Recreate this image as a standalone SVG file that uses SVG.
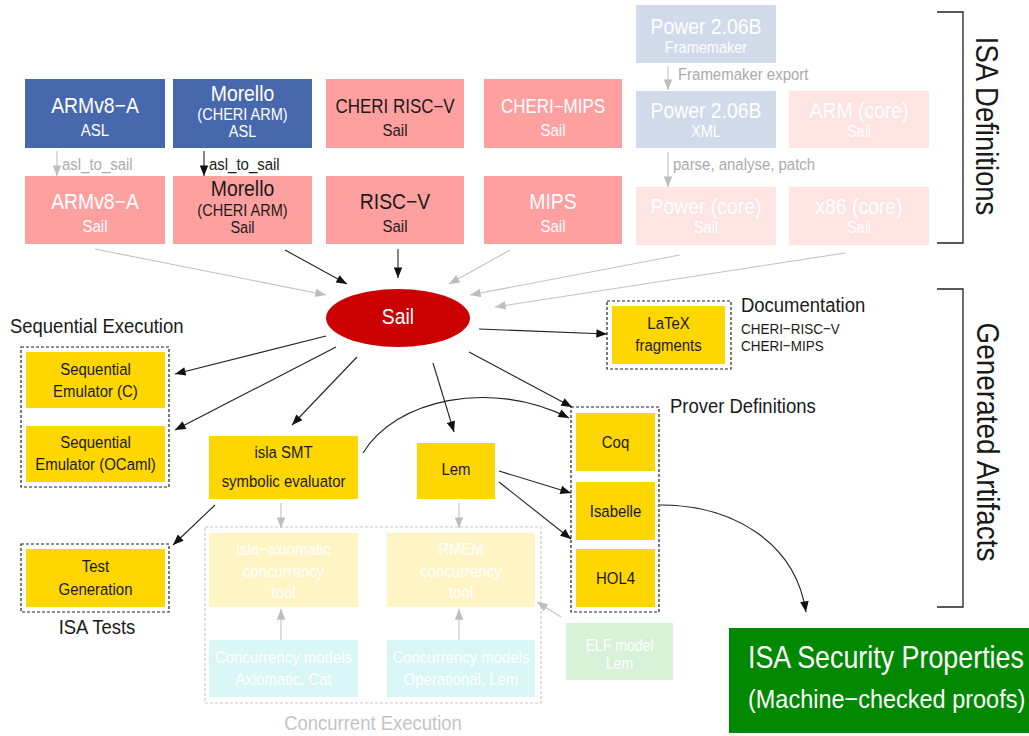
<svg xmlns="http://www.w3.org/2000/svg" width="1029" height="736" viewBox="0 0 1029 736">
<defs>
<marker id="ah" viewBox="0 0 10 8" refX="10" refY="4" markerWidth="12" markerHeight="8.5" markerUnits="userSpaceOnUse" orient="auto"><path d="M0,0 L10,4 L0,8 z" fill="#111"/></marker>
<marker id="ag" viewBox="0 0 10 8" refX="10" refY="4" markerWidth="12" markerHeight="8.5" markerUnits="userSpaceOnUse" orient="auto"><path d="M0,0 L10,4 L0,8 z" fill="#BDBDBD"/></marker>
</defs>
<style>
text { font-family: "Liberation Sans", Arial, Helvetica, sans-serif; }
.q { transform-box: fill-box; transform-origin: center; transform: scaleX(0.88); text-anchor: middle; }
.l { transform-box: fill-box; transform-origin: left; transform: scaleX(0.88); text-anchor: start; }
.big { font-size: 22px; }
.mid { font-size: 19.3px; }
.sm { font-size: 17px; }
.xs { font-size: 16.5px; }
.lab { font-size: 21px; }
.w { fill: #ffffff; }
.d { fill: #1a1a1a; }
.g { fill: #ABABAB; }
.blue { fill: #4868AE; }
.pink { fill: #FFA0A0; }
.fpink { fill: #FFE4E4; }
.pblue { fill: #D1DAEA; }
.yel { fill: #FFD700; }
.pyel { fill: #FFF5C4; }
.pcyan { fill: #D8F6F6; }
.pgreen { fill: #D8F2D8; }
.dash { fill: none; stroke: #222; stroke-width: 1.2; stroke-dasharray: 3 2; }
.gdash { fill: none; stroke: #C8C8C8; stroke-width: 1.2; stroke-dasharray: 3 2; }
.ab { fill: none; stroke: #222; stroke-width: 1.1; marker-end: url(#ah); }
.agr { fill: none; stroke: #C2C2C2; stroke-width: 1.1; marker-end: url(#ag); }
.br { fill: none; stroke: #222; stroke-width: 1.3; }
</style>

<!-- ISA definition nodes -->
<g id="armv8-asl"><rect class="blue" x="25" y="79" width="140" height="69"/><text class="q big w" x="95" y="113">ARMv8−A</text><text class="q sm w" x="95" y="136">ASL</text></g>
<g id="morello-asl"><rect class="blue" x="173" y="79" width="139" height="69"/><text class="q big w" x="242.5" y="101">Morello</text><text class="q xs w" x="242.5" y="120">(CHERI ARM)</text><text class="q xs w" x="242.5" y="137">ASL</text></g>
<g id="cheri-riscv"><rect class="pink" x="326" y="79" width="138" height="69"/><text class="q mid d" x="395" y="113">CHERI RISC−V</text><text class="q sm d" x="395" y="136">Sail</text></g>
<g id="cheri-mips"><rect class="pink" x="484" y="79" width="138" height="69"/><text class="q mid w" x="553" y="113">CHERI−MIPS</text><text class="q sm w" x="553" y="136">Sail</text></g>
<g id="power-fm"><rect class="pblue" x="636" y="5" width="140" height="58"/><text class="q big w" x="706" y="34">Power 2.06B</text><text class="q xs w" x="706" y="53">Framemaker</text></g>
<g id="power-xml"><rect class="pblue" x="636" y="91" width="140" height="57"/><text class="q big w" x="706" y="118">Power 2.06B</text><text class="q xs w" x="706" y="137">XML</text></g>
<g id="arm-core"><rect class="fpink" x="789" y="91" width="140" height="57"/><text class="q big w" x="859" y="118">ARM (core)</text><text class="q xs w" x="859" y="137">Sail</text></g>

<g id="armv8-sail"><rect class="pink" x="25" y="176" width="140" height="68"/><text class="q big w" x="95" y="209">ARMv8−A</text><text class="q sm w" x="95" y="232">Sail</text></g>
<g id="morello-sail"><rect class="pink" x="173" y="176" width="139" height="68"/><text class="q big d" x="242.5" y="196">Morello</text><text class="q xs d" x="242.5" y="216">(CHERI ARM)</text><text class="q xs d" x="242.5" y="233">Sail</text></g>
<g id="riscv"><rect class="pink" x="326" y="176" width="138" height="68"/><text class="q big d" x="395" y="209">RISC−V</text><text class="q sm d" x="395" y="232">Sail</text></g>
<g id="mips"><rect class="pink" x="484" y="176" width="138" height="68"/><text class="q big w" x="553" y="209">MIPS</text><text class="q sm w" x="553" y="232">Sail</text></g>
<g id="power-core"><rect class="fpink" x="636" y="187" width="140" height="58"/><text class="q big w" x="706" y="214">Power (core)</text><text class="q xs w" x="706" y="233">Sail</text></g>
<g id="x86-core"><rect class="fpink" x="789" y="187" width="140" height="58"/><text class="q big w" x="859" y="214">x86 (core)</text><text class="q xs w" x="859" y="233">Sail</text></g>

<!-- Sail -->
<g id="sail"><ellipse cx="398" cy="318" rx="72" ry="29" fill="#CC0000"/><text class="q big w" x="398" y="324">Sail</text></g>

<!-- Generated artifacts -->
<g id="seq-exec"><text class="l lab d" x="10" y="333">Sequential Execution</text><rect class="dash" x="21" y="347" width="148" height="140"/></g>
<g id="seq-c"><rect class="yel" x="26" y="352" width="139" height="56"/><text class="q sm d" x="95.5" y="375">Sequential</text><text class="q sm d" x="95.5" y="397">Emulator (C)</text></g>
<g id="seq-ocaml"><rect class="yel" x="26" y="426" width="139" height="56"/><text class="q sm d" x="95.5" y="448">Sequential</text><text class="q sm d" x="95.5" y="470">Emulator (OCaml)</text></g>

<g id="isa-tests"><rect class="dash" x="21" y="544" width="148" height="68"/><text class="q lab d" x="97" y="634">ISA Tests</text></g>
<g id="test-gen"><rect class="yel" x="26" y="549" width="139" height="58"/><text class="q sm d" x="95.5" y="572">Test</text><text class="q sm d" x="95.5" y="595">Generation</text></g>

<g id="isla-smt"><rect class="yel" x="209" y="436" width="149" height="63"/><text class="q sm d" x="283.5" y="458">isla SMT</text><text class="q sm d" x="283.5" y="487">symbolic evaluator</text></g>
<g id="lem"><rect class="yel" x="417" y="443" width="78" height="56"/><text class="q sm d" x="456" y="475">Lem</text></g>

<g id="concurrent-exec"><rect class="gdash" x="205" y="527" width="336" height="176"/><text class="q lab" fill="#C4C4C4" x="373" y="730">Concurrent Execution</text></g>
<g id="isla-axiomatic"><rect class="pyel" x="209" y="533" width="149" height="74"/><text class="q sm w" x="283.5" y="555">isla−axiomatic</text><text class="q sm w" x="283.5" y="577">concurrency</text><text class="q sm w" x="283.5" y="598">tool</text></g>
<g id="rmem"><rect class="pyel" x="387" y="533" width="148" height="74"/><text class="q sm w" x="461" y="555">RMEM</text><text class="q sm w" x="461" y="577">concurrency</text><text class="q sm w" x="461" y="598">tool</text></g>
<g id="conc-axiomatic"><rect class="pcyan" x="209" y="640" width="149" height="57"/><text class="q sm w" x="283.5" y="663">Concurrency models</text><text class="q sm w" x="283.5" y="685">Axiomatic, Cat</text></g>
<g id="conc-operational"><rect class="pcyan" x="387" y="640" width="148" height="57"/><text class="q sm w" x="461" y="663">Concurrency models</text><text class="q sm w" x="461" y="685">Operational, Lem</text></g>
<g id="elf"><rect class="pgreen" x="566" y="623" width="107" height="57"/><text class="q w" style="font-size:16px" x="619.5" y="651">ELF model</text><text class="q w" style="font-size:16px" x="619.5" y="669">Lem</text></g>

<g id="documentation"><rect class="dash" x="607" y="301" width="124" height="68"/><text class="l lab d" x="741" y="312">Documentation</text><text class="l d" style="font-size:15.3px" x="741" y="334">CHERI−RISC−V</text><text class="l d" style="font-size:15.3px" x="741" y="351">CHERI−MIPS</text></g>
<g id="latex"><rect class="yel" x="612" y="306" width="113" height="58"/><text class="q sm d" x="668.5" y="329">LaTeX</text><text class="q sm d" x="668.5" y="351">fragments</text></g>

<g id="prover-defs"><rect class="dash" x="571" y="407" width="88" height="205"/><text class="l lab d" x="670" y="413">Prover Definitions</text></g>
<g id="coq"><rect class="yel" x="576" y="413" width="79" height="58"/><text class="q sm d" x="615.5" y="448">Coq</text></g>
<g id="isabelle"><rect class="yel" x="576" y="482" width="79" height="58"/><text class="q sm d" x="615.5" y="517">Isabelle</text></g>
<g id="hol4"><rect class="yel" x="576" y="549" width="79" height="58"/><text class="q sm d" x="615.5" y="584">HOL4</text></g>

<g id="security"><rect x="729" y="628" width="310" height="105" fill="#008800"/><text class="l w" style="font-size:30.5px" x="748" y="668">ISA Security Properties</text><text class="l w" style="font-size:26.7px" x="748" y="708">(Machine−checked proofs)</text></g>

<!-- Brackets -->
<g id="isa-definitions-bracket"><path class="br" d="M937,12 H963 V243 H937"/><text transform="translate(976,126) rotate(90) scale(0.9,1)" text-anchor="middle" style="font-size:30.5px" class="d" x="0" y="0">ISA Definitions</text></g>
<g id="generated-artifacts-bracket"><path class="br" d="M937,289 H963 V607 H937"/><text transform="translate(977,442) rotate(90) scale(0.9,1)" text-anchor="middle" style="font-size:31px" class="d" x="0" y="0">Generated Artifacts</text></g>

<!-- Connectors -->
<g id="connectors">
<path class="agr" d="M57,151 L57,176"/>
<text class="l sm g" x="62" y="170">asl_to_sail</text>
<path class="ab" d="M204,151 L204,176"/>
<text class="l sm d" x="209" y="170">asl_to_sail</text>
<path class="agr" d="M668,66 L668,90"/>
<text class="l sm g" x="678" y="80">Framemaker export</text>
<path class="agr" d="M668,152 L668,187"/>
<text class="l sm g" x="673" y="170">parse, analyse, patch</text>

<path class="agr" d="M95,249 L326,295"/>
<path class="ab" d="M285,250 L347,284"/>
<path class="ab" d="M398,249 L398,278"/>
<path class="agr" d="M510,250 L449,284"/>
<path class="agr" d="M680,255 L470,295"/>
<path class="agr" d="M845,253 L495,307"/>

<path class="ab" d="M326,336 L175,374"/>
<path class="ab" d="M336,347 L175,430"/>
<path class="ab" d="M357,357 L292,425"/>
<path class="ab" d="M433,363 L454,432"/>
<path class="ab" d="M469,352 L572,407"/>
<path class="ab" d="M479,329 L607,334"/>
<path class="ab" d="M363,453 C395,400 490,378 569,418"/>
<path class="ab" d="M499,471 L571,493"/>
<path class="ab" d="M499,482 L571,539"/>
<path class="ab" d="M660,505 C730,505 795,540 806,612"/>
<path class="ab" d="M215,505 L173,545"/>

<path class="agr" d="M281,503 L281,528"/>
<path class="agr" d="M459,503 L459,528"/>
<path class="agr" d="M281,640 L281,609"/>
<path class="agr" d="M459,640 L459,609"/>
<path class="agr" d="M561,617 L537,602"/>
</g>
</svg>
